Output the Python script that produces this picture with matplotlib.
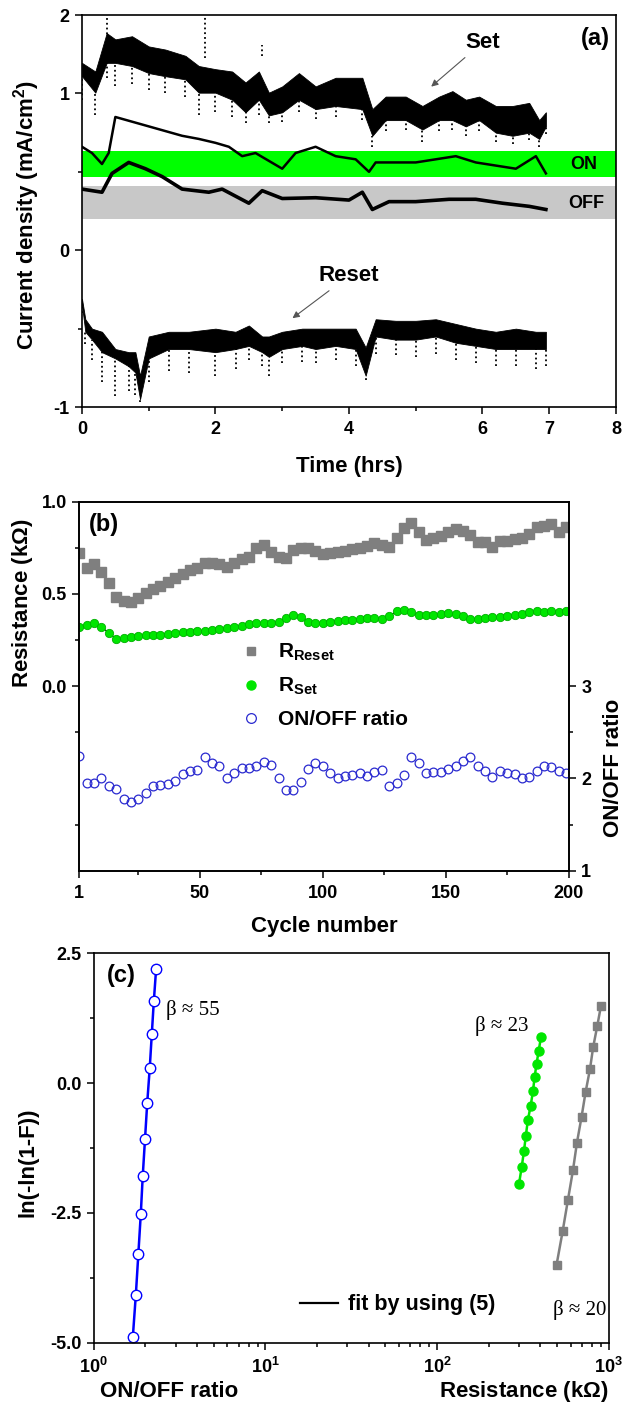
import numpy as np
import matplotlib
matplotlib.use('Agg')
from matplotlib import pyplot as plt
from matplotlib.lines import Line2D
from matplotlib.ticker import FuncFormatter, LogLocator, NullFormatter

# ---------------- panel (a): current density vs time ----------------
set_t = [0, 0.2, 0.37, 0.5, 0.75, 1.0, 1.25, 1.55, 1.75, 2.0, 2.25, 2.45, 2.65, 2.8, 3.0, 3.25,
         3.5, 3.8, 4.2, 4.35, 4.55, 4.85, 5.1, 5.35, 5.55, 5.75, 5.95, 6.2, 6.45, 6.7, 6.85, 6.95]
set_top = [1.39, 1.28, 1.77, 1.69, 1.73, 1.60, 1.56, 1.48, 1.35, 1.31, 1.28, 1.14, 1.28, 1.01, 1.09, 1.26,
           1.09, 1.20, 1.20, 0.90, 0.98, 0.98, 0.92, 0.98, 1.03, 0.96, 0.98, 0.92, 0.92, 0.94, 0.83, 0.88]
set_bot = [1.22, 1.01, 1.39, 1.39, 1.35, 1.26, 1.22, 1.18, 1.01, 1.01, 0.96, 0.88, 0.96, 0.86, 0.88, 0.96,
           0.90, 0.92, 0.90, 0.73, 0.83, 0.83, 0.77, 0.83, 0.83, 0.79, 0.83, 0.75, 0.73, 0.75, 0.71, 0.79]
set_tail = [0.96, 0.86, 1.20, 1.09, 1.12, 1.05, 1.01, 0.98, 0.86, 0.88, 0.85, 0.81, 0.86, 0.81, 0.82, 0.88,
            0.84, 0.85, 0.83, 0.66, 0.76, 0.77, 0.69, 0.76, 0.77, 0.73, 0.76, 0.69, 0.68, 0.70, 0.66, 0.74]

reset_t = [0, 0.05, 0.15, 0.3, 0.5, 0.7, 0.8, 0.87, 1.0, 1.3, 1.6, 2.0, 2.3, 2.5, 2.7, 2.8,
           3.0, 3.3, 3.5, 3.8, 4.1, 4.25, 4.4, 4.7, 5.0, 5.3, 5.6, 5.9, 6.2, 6.5, 6.8, 6.95]
reset_top = [-0.31, -0.44, -0.50, -0.52, -0.63, -0.65, -0.65, -0.80, -0.55, -0.52, -0.52, -0.50, -0.52, -0.48, -0.55, -0.55,
             -0.52, -0.50, -0.50, -0.50, -0.50, -0.62, -0.44, -0.45, -0.45, -0.44, -0.47, -0.50, -0.52, -0.50, -0.52, -0.52]
reset_bot = [-0.35, -0.52, -0.57, -0.65, -0.69, -0.74, -0.78, -0.95, -0.69, -0.63, -0.63, -0.65, -0.63, -0.61, -0.65, -0.68,
             -0.63, -0.61, -0.63, -0.61, -0.63, -0.80, -0.55, -0.57, -0.57, -0.55, -0.59, -0.61, -0.63, -0.63, -0.63, -0.63]
reset_tail = [-0.40, -0.60, -0.70, -0.84, -0.93, -0.90, -0.92, -0.97, -0.84, -0.77, -0.78, -0.80, -0.76, -0.70, -0.74, -0.80,
              -0.72, -0.71, -0.72, -0.70, -0.74, -0.83, -0.66, -0.67, -0.68, -0.66, -0.70, -0.72, -0.74, -0.74, -0.76, -0.74]

on_t = [0, 0.15, 0.3, 0.4, 0.5, 0.75, 1.0, 1.25, 1.5, 1.75, 2.0, 2.2, 2.4, 2.6, 2.8, 3.0,
        3.2, 3.5, 3.8, 4.1, 4.3, 4.4, 4.6, 5.0, 5.3, 5.6, 5.9, 6.2, 6.5, 6.8, 6.95]
on_y = [0.66, 0.62, 0.55, 0.62, 0.85, 0.82, 0.79, 0.76, 0.73, 0.71, 0.685, 0.66, 0.60, 0.62, 0.57, 0.52,
        0.62, 0.66, 0.60, 0.58, 0.50, 0.56, 0.56, 0.56, 0.58, 0.60, 0.56, 0.54, 0.52, 0.60, 0.49]

off_t = [0, 0.3, 0.45, 0.7, 0.95, 1.2, 1.5, 1.9, 2.1, 2.5, 2.7, 3.0, 3.5, 4.0, 4.2, 4.35,
         4.6, 5.0, 5.5, 5.9, 6.3, 6.7, 6.95]
off_y = [0.39, 0.37, 0.49, 0.56, 0.52, 0.47, 0.39, 0.37, 0.39, 0.30, 0.38, 0.33, 0.335, 0.32, 0.37, 0.26,
         0.31, 0.31, 0.325, 0.325, 0.30, 0.28, 0.26]

spike_t = [0.37, 1.85, 2.70]
spike_lo = [1.70, 1.45, 1.48]
spike_hi = [2.00, 1.98, 1.62]

on_band = (0.469, 0.632)
off_band = (0.197, 0.41)

# ---------------- panel (b): resistance vs cycle ----------------
cycles = np.arange(1, 200, 3)
r_reset = [0.72, 0.64, 0.66, 0.62, 0.557, 0.485, 0.461, 0.454, 0.476, 0.503, 0.525, 0.544, 0.563, 0.584,
           0.609, 0.628, 0.642, 0.669, 0.666, 0.660, 0.647, 0.666, 0.687,
           0.70, 0.747, 0.765, 0.729, 0.70, 0.693, 0.738, 0.747, 0.747, 0.733, 0.714, 0.72, 0.729, 0.733,
           0.742, 0.750, 0.761, 0.774, 0.765, 0.756, 0.801, 0.859,
           0.883, 0.837, 0.792, 0.801, 0.816, 0.837, 0.850, 0.841, 0.819, 0.783, 0.78, 0.756, 0.787, 0.787,
           0.798, 0.801, 0.823, 0.864, 0.87, 0.877, 0.837, 0.864]
r_set = [0.32, 0.33, 0.34, 0.32, 0.29, 0.255, 0.26, 0.265, 0.27, 0.275,
         0.278, 0.28, 0.285, 0.29, 0.292, 0.295, 0.298, 0.30, 0.305, 0.31,
         0.318, 0.322, 0.325, 0.335, 0.345, 0.345, 0.34, 0.35, 0.37, 0.385,
         0.375, 0.35, 0.34, 0.345, 0.35, 0.355, 0.36, 0.36, 0.365, 0.37,
         0.37, 0.365, 0.38, 0.405, 0.415, 0.40, 0.385, 0.385, 0.385, 0.39,
         0.395, 0.39, 0.38, 0.365, 0.365, 0.37, 0.375, 0.375, 0.378, 0.385,
         0.39, 0.40, 0.405, 0.40, 0.405, 0.40, 0.41]
on_off = [2.24, 1.95, 1.95, 2.01, 1.92, 1.89, 1.78, 1.74, 1.78, 1.84,
          1.92, 1.93, 1.94, 1.97, 2.05, 2.08, 2.09, 2.23, 2.17, 2.13,
          2.01, 2.06, 2.11, 2.11, 2.14, 2.18, 2.15, 2.01, 1.87, 1.87,
          1.96, 2.10, 2.17, 2.13, 2.06, 2.00, 2.03, 2.04, 2.06, 2.03,
          2.07, 2.09, 1.92, 1.95, 2.04, 2.23, 2.17, 2.06, 2.07, 2.07,
          2.10, 2.14, 2.19, 2.23, 2.13, 2.08, 2.02, 2.08, 2.06, 2.05,
          2.00, 2.02, 2.08, 2.13, 2.12, 2.08, 2.06]

# ---------------- panel (c): Weibull plots ----------------
ratio_x = [1.69, 1.76, 1.82, 1.88, 1.93, 1.99, 2.05, 2.12, 2.18, 2.24, 2.31]
ratio_y = [-4.89, -4.075, -3.29, -2.527, -1.795, -1.08, -0.383, 0.285, 0.946, 1.58, 2.198]
rset_x = [300, 311, 321, 329, 338, 351, 362, 370, 380, 391, 403]
rset_y = [-1.95, -1.622, -1.308, -1.013, -0.717, -0.435, -0.158, 0.112, 0.374, 0.624, 0.882]
rreset_x = [497, 539, 579, 619, 653, 695, 733, 778, 812, 857, 901]
rreset_y = [-3.497, -2.855, -2.245, -1.680, -1.148, -0.647, -0.177, 0.272, 0.695, 1.094, 1.485]

plt.rcParams.update({
    'font.family': 'Liberation Sans',
    'font.weight': 'bold',
    'axes.labelweight': 'bold',
    'mathtext.fontset': 'custom',
    'mathtext.rm': 'Liberation Sans:bold',
    'mathtext.it': 'Liberation Sans:bold',
    'mathtext.bf': 'Liberation Sans:bold',
    'axes.unicode_minus': False,
    'axes.linewidth': 1.2,
    'xtick.major.width': 1.1, 'ytick.major.width': 1.1,
    'xtick.minor.width': 1.1, 'ytick.minor.width': 1.1,
    'xtick.major.size': 5, 'ytick.major.size': 5,
    'xtick.minor.size': 3, 'ytick.minor.size': 3,
    'xtick.direction': 'out', 'ytick.direction': 'out',
    'xtick.labelsize': 13, 'ytick.labelsize': 13,
    'xtick.major.pad': 5, 'ytick.major.pad': 4,
})

GREEN = '#00e600'
GREY = '#7f7f7f'
BLUE = '#2a2ad0'
serif = 'Liberation Serif'


def fwd(y):
    y = np.asarray(y, dtype=float)
    return np.where(y > 1, 1 + (y - 1) / 2, y)


def inv(y):
    y = np.asarray(y, dtype=float)
    return np.where(y > 1, 1 + (y - 1) * 2, y)


fig = plt.figure(figsize=(6.37, 14.07), dpi=100)

# ---- (a) ----
ax = fig.add_axes([0.1287, 0.7107, 0.8383, 0.2786])
ax.set_yscale('function', functions=(fwd, inv))
ax.axhspan(*on_band, color='#00ff00', lw=0, zorder=0)
ax.axhspan(*off_band, color='#c8c8c8', lw=0, zorder=0)
ax.fill_between(set_t, set_bot, set_top, color='black', lw=0.6)
ax.vlines(set_t, set_tail, set_bot, colors='black', linestyles=':', lw=1.3)
ax.vlines(spike_t, spike_lo, spike_hi, colors='black', linestyles=':', lw=1.3)
ax.fill_between(reset_t, reset_bot, reset_top, color='black', lw=0.6)
ax.vlines(reset_t, reset_tail, reset_bot, colors='black', linestyles=':', lw=1.3)
ax.plot(on_t, on_y, color='black', lw=1.8)
ax.plot(off_t, off_y, color='black', lw=2.6)

ax.set_xlim(0, 8)
ax.set_ylim(-1, 2)
ax.set_xticks([0, 2, 4, 6, 7, 8])
ax.set_xticks([1, 3, 5], minor=True)
ax.set_yticks([-1, 0, 1, 2])
ax.set_yticks([-0.5, 0.5], minor=True)
ax.set_yticklabels(['-1', '0', '1', '2'])
ax.set_xlabel('Time (hrs)', fontsize=16)
ax.set_ylabel('Current density (mA/cm$^2$)', fontsize=16)
ax.xaxis.set_label_coords(0.5, -0.125)
ax.yaxis.set_label_coords(-0.075, 0.49)

ax.text(7.69, 1.70, '(a)', fontsize=17, ha='center', va='center')
ax.text(7.51, 0.55, 'ON', fontsize=13, ha='center', va='center')
ax.text(7.56, 0.295, 'OFF', fontsize=13, ha='center', va='center')
ax.annotate('Set', xy=(5.20, 1.064), xytext=(6.0, 1.65), fontsize=16, ha='center', va='center',
            arrowprops=dict(arrowstyle='-|>', color='#555555', lw=0.8, mutation_scale=10))
ax.annotate('Reset', xy=(3.12, -0.444), xytext=(4.0, -0.163), fontsize=16, ha='center', va='center',
            arrowprops=dict(arrowstyle='-|>', color='#555555', lw=0.8, mutation_scale=10))

# ---- (b) ----
axb = fig.add_axes([0.1245, 0.3812, 0.7683, 0.2622])
axb.plot(cycles, r_reset, ls='none', marker='s', ms=6.6, color=GREY, mec=GREY)
axb.plot(cycles, r_set, color='black', lw=0.8, marker='o', ms=6, mfc=GREEN, mec='#00b000', mew=0.6)
axb.set_xlim(1, 200)
axb.set_ylim(-1, 1)
axb.set_xticks([1, 50, 100, 150, 200])
axb.set_xticks([25, 75, 125, 175], minor=True)
axb.set_yticks([0, 0.5, 1.0])
axb.set_yticks([-0.75, -0.25, 0.25, 0.75], minor=True)
axb.set_yticklabels(['0.0', '0.5', '1.0'])
axb.set_xlabel('Cycle number', fontsize=16)
axb.set_ylabel('Resistance (k$\\Omega$)', fontsize=16)
axb.xaxis.set_label_coords(0.5, -0.123)
axb.yaxis.set_label_coords(-0.09, 0.725)
axb.text(0.05, 0.937, '(b)', transform=axb.transAxes, fontsize=17, ha='center', va='center')

axr = axb.twinx()
axr.plot(cycles, on_off, ls='none', marker='o', ms=6.3, mfc='none', mec=BLUE, mew=0.9)
axr.set_ylim(1, 5)
axr.set_yticks([1, 2, 3])
axr.set_yticks([1.5, 2.5], minor=True)
axr.set_ylabel('ON/OFF ratio', fontsize=16)
axr.yaxis.set_label_coords(1.07, 0.278)

handles = [Line2D([], [], ls='none', marker='s', ms=6, color=GREY),
           Line2D([], [], ls='none', marker='o', ms=6.5, color=GREEN),
           Line2D([], [], ls='none', marker='o', ms=7, mfc='none', mec=BLUE, mew=0.9)]
axb.legend(handles, ['R$_{Reset}$', 'R$_{Set}$', 'ON/OFF ratio'], loc='upper left',
           bbox_to_anchor=(0.33, 0.62), frameon=False, fontsize=15, handlelength=1.0,
           handletextpad=0.8, borderpad=0, borderaxespad=0, labelspacing=0.62)

# ---- (c) ----
axc = fig.add_axes([0.1471, 0.0457, 0.8085, 0.2768])
axc.set_xscale('log')
axc.plot(ratio_x, ratio_y, color='#0000ff', lw=1.8, marker='o', ms=7.5, mfc='white', mec='#0000ff', mew=1.0)
axc.plot(rset_x, rset_y, color=GREEN, lw=1.8, marker='o', ms=6.5, mfc=GREEN, mec=GREEN)
axc.plot(rreset_x, rreset_y, color=GREY, lw=1.8, marker='s', ms=6, mfc=GREY, mec=GREY)
axc.set_xlim(1, 1000)
axc.set_ylim(-5, 2.5)
axc.set_yticks([-5, -2.5, 0, 2.5])
axc.set_yticks([-3.75, -1.25, 1.25], minor=True)
axc.set_yticklabels(['-5.0', '-2.5', '0.0', '2.5'])
axc.xaxis.set_major_locator(LogLocator(base=10))
axc.xaxis.set_minor_locator(LogLocator(base=10, subs=np.arange(2, 10)))
axc.xaxis.set_minor_formatter(NullFormatter())
axc.xaxis.set_major_formatter(FuncFormatter(lambda v, p: '$10^{%d}$' % round(np.log10(v))))
axc.set_ylabel('ln(-ln(1-F))', fontsize=16)
axc.yaxis.set_label_coords(-0.108, 0.464)
axc.text(0.013, -0.126, 'ON/OFF ratio', transform=axc.transAxes, fontsize=16, ha='left', va='center')
axc.text(1.0, -0.126, 'Resistance (k$\\Omega$)', transform=axc.transAxes, fontsize=16, ha='right', va='center')
axc.text(0.054, 0.942, '(c)', transform=axc.transAxes, fontsize=17, ha='center', va='center')
axc.text(2.64, 1.41, '\u03b2 \u2248 55', fontsize=15, family=serif, fontweight='normal', ha='left', va='center')
axc.text(166, 1.09, '\u03b2 \u2248 23', fontsize=15, family=serif, fontweight='normal', ha='left', va='center')
axc.text(473, -4.37, '\u03b2 \u2248 20', fontsize=15, family=serif, fontweight='normal', ha='left', va='center')
axc.legend([Line2D([], [], color='black', lw=1.6)], ['fit by using (5)'], loc='center left',
           bbox_to_anchor=(0.40, 0.097), frameon=False, fontsize=15.5, handlelength=1.8,
           handletextpad=0.45, borderpad=0, borderaxespad=0)

fig.savefig('out.png', dpi=100)
